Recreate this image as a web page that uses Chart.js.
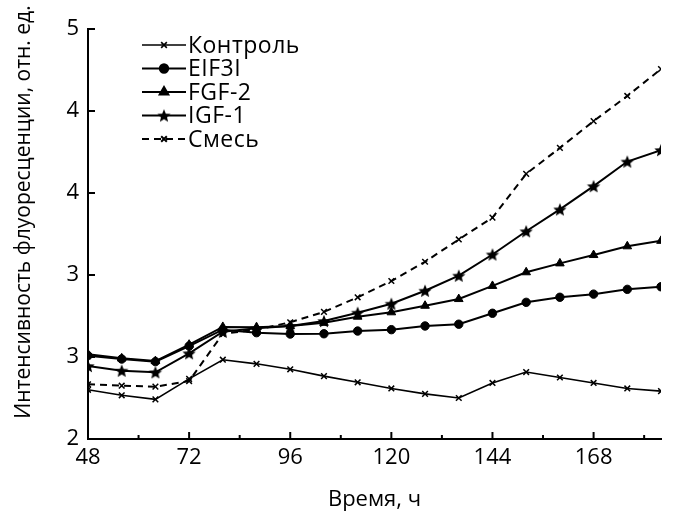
<!DOCTYPE html>
<html>
<head>
<meta charset="utf-8">
<title>Интенсивность флуоресценции</title>
<script src="https://cdn.jsdelivr.net/npm/chart.js@4.4.1/dist/chart.umd.min.js"></script>
<style>
  html, body { margin: 0; padding: 0; background: #fff; }
  #wrap { width: 677px; height: 513px; }
</style>
</head>
<body>
<div id="wrap"><canvas id="chart" width="677" height="513"></canvas></div>
<script>
// hours of measurement
const hours = [48, 56, 64, 72, 80, 88, 96, 104, 112, 120, 128, 136, 144, 152, 160, 168, 176, 184];

// fluorescence, rel. units
const control = [2.36, 2.32, 2.29, 2.44, 2.58, 2.55, 2.51, 2.46, 2.415, 2.37, 2.33, 2.30, 2.41, 2.49, 2.45, 2.41, 2.37, 2.35];
const eif3i   = [2.61, 2.585, 2.566, 2.68, 2.80, 2.778, 2.768, 2.77, 2.79, 2.80, 2.827, 2.84, 2.92, 3.00, 3.037, 3.06, 3.095, 3.114];
const fgf2    = [2.62, 2.59, 2.57, 2.69, 2.82, 2.817, 2.827, 2.85, 2.895, 2.927, 2.975, 3.024, 3.12, 3.22, 3.285, 3.346, 3.41, 3.45];
const igf1    = [2.534, 2.50, 2.488, 2.627, 2.785, 2.81, 2.827, 2.863, 2.924, 2.99, 3.085, 3.195, 3.35, 3.52, 3.68, 3.85, 4.03, 4.114];
const mix     = [2.40, 2.39, 2.383, 2.424, 2.77, 2.80, 2.854, 2.93, 3.037, 3.156, 3.297, 3.46, 3.62, 3.94, 4.13, 4.326, 4.51, 4.707];

const seriesNames = ['Контроль', 'EIF3I', 'FGF-2', 'IGF-1', 'Смесь'];

// axis ticks (the y labels are printed rounded in the original)
const xTickValues = [48, 60, 72, 84, 96, 108, 120, 132, 144, 156, 168, 180];
const xTickLabels = ['48', '', '72', '', '96', '', '120', '', '144', '', '168', ''];
const yTickValues = [2, 2.6, 3.2, 3.8, 4.4, 5];
const yTickLabels = ['2', '3', '3', '4', '4', '5'];

const FONT = '"Open Sans", "DejaVu Sans", sans-serif';

// filled five-point star used as a point marker
function makeStar(r) {
  const c = document.createElement('canvas');
  const s = Math.ceil(r * 2 + 2);
  c.width = s; c.height = s;
  const g = c.getContext('2d');
  g.translate(s / 2, s / 2 + r * 0.1);
  g.beginPath();
  for (let i = 0; i < 10; i++) {
    const rad = i % 2 === 0 ? r : r * 0.45;
    const a = -Math.PI / 2 + i * Math.PI / 5;
    const px = Math.cos(a) * rad, py = Math.sin(a) * rad;
    if (i === 0) g.moveTo(px, py); else g.lineTo(px, py);
  }
  g.closePath();
  g.fillStyle = '#000';
  g.fill();
  return c;
}
const star = makeStar(7);

const toPts = arr => arr.map((v, i) => ({ x: hours[i], y: v }));

function series(label, data, style, extra) {
  return Object.assign({
    label,
    data: toPts(data),
    borderColor: '#000',
    backgroundColor: '#000',
    borderWidth: 2,
    pointStyle: style,
    pointRadius: 4,
    pointBorderColor: '#000',
    pointBackgroundColor: '#000',
    pointBorderWidth: 1,
    tension: 0
  }, extra || {});
}

// inward tick marks
const tickMarks = {
  id: 'tickMarks',
  afterDraw(chart) {
    const { ctx, chartArea, scales } = chart;
    ctx.save();
    ctx.strokeStyle = '#000';
    ctx.lineWidth = 2;
    xTickValues.forEach((v, i) => {
      const x = scales.x.getPixelForValue(v);
      const len = xTickLabels[i] ? 7 : 4;
      ctx.beginPath();
      ctx.moveTo(x, chartArea.bottom);
      ctx.lineTo(x, chartArea.bottom - len);
      ctx.stroke();
    });
    yTickValues.forEach(v => {
      const y = scales.y.getPixelForValue(v);
      ctx.beginPath();
      ctx.moveTo(chartArea.left, y);
      ctx.lineTo(chartArea.left + 7, y);
      ctx.stroke();
    });
    ctx.restore();
  }
};

// y title and in-plot legend
const labelsPlugin = {
  id: 'labelsPlugin',
  afterDraw(chart) {
    const { ctx } = chart;
    ctx.save();
    ctx.fillStyle = '#000';
    ctx.font = '21px ' + FONT;
    ctx.textAlign = 'center';
    ctx.textBaseline = 'middle';
    ctx.translate(24, 212);
    ctx.rotate(-Math.PI / 2);
    ctx.fillText('Интенсивность флуоресценции, отн. ед.', 0, 0);
    ctx.restore();

    const x0 = 142, x1 = 186, rowY = 45, rowH = 23.5;
    chart.data.datasets.forEach((ds, i) => {
      const y = rowY + i * rowH;
      ctx.save();
      ctx.strokeStyle = '#000';
      ctx.lineWidth = ds.borderWidth;
      ctx.setLineDash(ds.borderDash || []);
      ctx.beginPath();
      ctx.moveTo(x0, y);
      ctx.lineTo(x1, y);
      ctx.stroke();
      ctx.setLineDash([]);
      const cx = (x0 + x1) / 2;
      if (ds.pointStyle instanceof HTMLCanvasElement) {
        ctx.drawImage(ds.pointStyle, cx - ds.pointStyle.width / 2, y - ds.pointStyle.height / 2);
      } else {
        ctx.fillStyle = '#000';
        Chart.helpers.drawPoint(ctx, {
          pointStyle: ds.pointStyle,
          radius: ds.pointRadius,
          borderWidth: ds.pointBorderWidth
        }, cx, y);
        if (ds.pointStyle !== 'crossRot') ctx.fill();
      }
      ctx.fillStyle = '#000';
      ctx.font = '23px ' + FONT;
      if ('letterSpacing' in ctx) ctx.letterSpacing = '0.5px';
      ctx.textAlign = 'left';
      ctx.textBaseline = 'middle';
      ctx.fillText(ds.label, x1 + 2, y + 1);
      ctx.restore();
    });
  }
};

new Chart(document.getElementById('chart'), {
  type: 'line',
  data: {
    datasets: [
      series(seriesNames[0], control, 'crossRot', { borderWidth: 1.6, pointRadius: 4, pointBorderWidth: 1.5 }),
      series(seriesNames[1], eif3i, 'circle', { pointRadius: 4.2 }),
      series(seriesNames[2], fgf2, 'triangle', { pointRadius: 5 }),
      series(seriesNames[3], igf1, star),
      series(seriesNames[4], mix, 'crossRot', { borderDash: [7, 5], pointRadius: 4, pointBorderWidth: 1.5 })
    ]
  },
  options: {
    responsive: false,
    animation: false,
    layout: { padding: { left: 0, right: 16, top: 29, bottom: 0 } },
    plugins: { legend: { display: false }, tooltip: { enabled: false } },
    scales: {
      x: {
        type: 'linear',
        min: 48,
        max: 184,
        afterBuildTicks: s => { s.ticks = xTickValues.map(v => ({ value: v })); },
        afterFit: s => { s.height = 74; },
        grid: { display: true, drawOnChartArea: false, drawTicks: false },
        border: { display: true, color: '#000', width: 2 },
        ticks: {
          color: '#000',
          padding: 6,
          maxRotation: 0,
          autoSkip: false,
          font: { family: FONT, size: 22 },
          callback: (v, i) => xTickLabels[i]
        },
        title: {
          display: true,
          text: 'Время, ч',
          color: '#000',
          font: { family: FONT, size: 22 },
          padding: { top: 10, bottom: 0 }
        }
      },
      y: {
        type: 'linear',
        min: 2,
        max: 5,
        afterBuildTicks: s => { s.ticks = yTickValues.map(v => ({ value: v })); },
        afterFit: s => { s.width = 88; },
        grid: { display: true, drawOnChartArea: false, drawTicks: false },
        border: { display: true, color: '#000', width: 2 },
        ticks: {
          color: '#000',
          padding: 9,
          autoSkip: false,
          font: { family: FONT, size: 22 },
          callback: (v, i) => yTickLabels[i]
        }
      }
    }
  },
  plugins: [tickMarks, labelsPlugin]
});
</script>
</body>
</html>
